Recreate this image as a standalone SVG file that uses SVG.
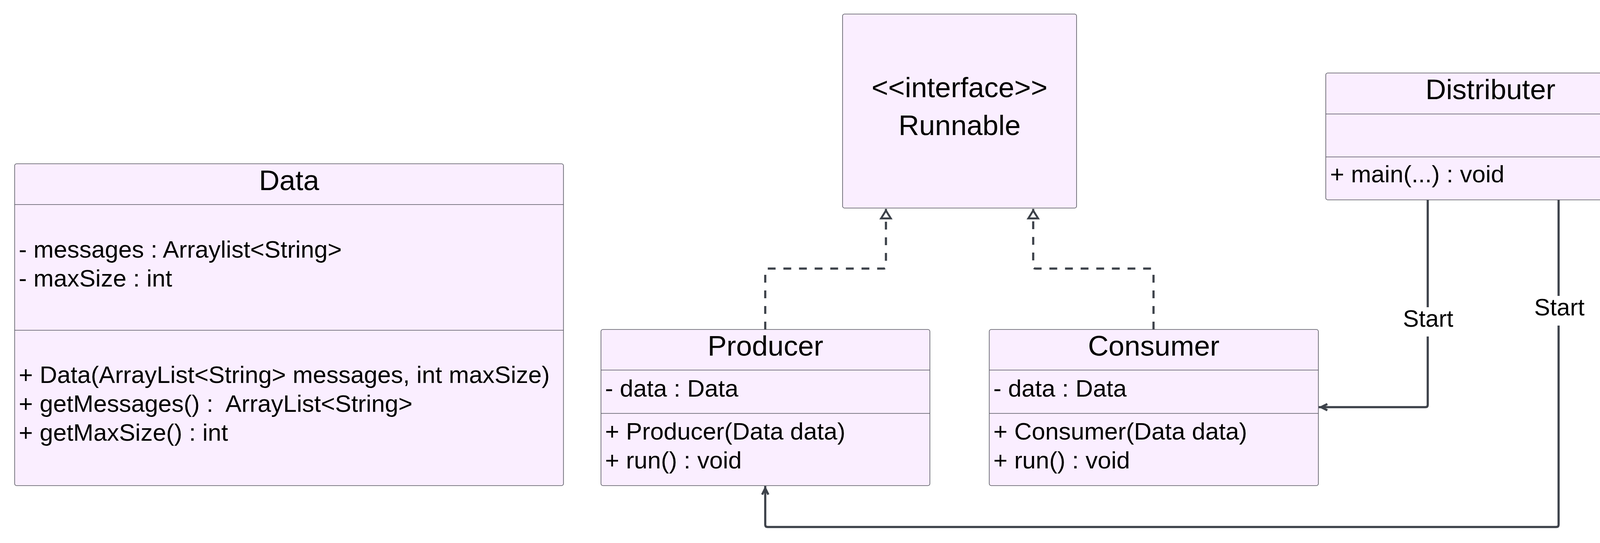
<svg xmlns="http://www.w3.org/2000/svg" width="4275" height="1391" viewBox="0 0 4275 1391">
<style>
.box{fill:#faeeff;stroke:#55555f;stroke-width:1.6}
.div{stroke:#55555f;stroke-width:1.6}
.t{font-family:"Liberation Sans",Arial,Helvetica,sans-serif;fill:#000}
.title{font-size:73px;text-anchor:middle}
.mem{font-size:62px}
.lbl{font-size:61px;text-anchor:middle}
.edge{fill:none;stroke:#3d424a;stroke-width:5.5}
.dash{stroke-dasharray:20 20}
.lblbg{fill:#ffffff}
</style>
<defs>
<marker id="realize" markerUnits="userSpaceOnUse" orient="auto" refX="24.5" refY="0" markerWidth="60" markerHeight="60" overflow="visible">
<path d="M0,-12.5 L20,0 L0,12.5 Z" fill="#ffffff" stroke="#3d424a" stroke-width="5" stroke-dasharray="none"/>
</marker>
<marker id="open" markerUnits="userSpaceOnUse" orient="auto" refX="6" refY="0" markerWidth="60" markerHeight="60" overflow="visible">
<path d="M-16,-8 L0,0 L-16,8" fill="none" stroke="#3d424a" stroke-width="5.5" stroke-dasharray="none"/>
</marker>
</defs>
<rect width="4275" height="1391" fill="#ffffff"/>

<g id="connectors">
<path id="e-producer-runnable" class="edge dash" d="M1959,844 L1959,694 Q1959,688 1965,688 L2262,688 Q2268,688 2268,682 L2268,535" marker-end="url(#realize)"/>
<path id="e-consumer-runnable" class="edge dash" d="M2953,844 L2953,694 Q2953,688 2947,688 L2651,688 Q2645,688 2645,682 L2645,535" marker-end="url(#realize)"/>
<path id="e-distributer-consumer" class="edge" d="M3655,512 L3655,1037 Q3655,1043 3649,1043 L3376,1043" marker-end="url(#open)"/>
<path id="e-distributer-producer" class="edge" d="M3990,512 L3990,1344 Q3990,1350 3984,1350 L1965,1350 Q1959,1350 1959,1344 L1959,1245" marker-end="url(#open)"/>
<g id="label-start-1">
<rect class="lblbg" x="3590" y="787" width="132" height="75"/>
<text class="t lbl" x="3656" y="837">Start</text>
</g>
<g id="label-start-2">
<rect class="lblbg" x="3926" y="758" width="132" height="76"/>
<text class="t lbl" x="3992" y="808">Start</text>
</g>
</g>

<g id="node-data">
<rect class="box" x="37.5" y="419.5" width="1405" height="824.5" rx="5"/>
<line class="div" x1="37.5" y1="524" x2="1442.5" y2="524"/>
<line class="div" x1="37.5" y1="846" x2="1442.5" y2="846"/>
<text class="t title" x="740" y="487">Data</text>
<text class="t mem" x="48" y="660">- messages : Arraylist&lt;String&gt;</text>
<text class="t mem" x="48" y="734">- maxSize : int</text>
<text class="t mem" x="48" y="981">+ Data(ArrayList&lt;String&gt; messages, int maxSize)</text>
<text class="t mem" x="48" y="1055" xml:space="preserve">+ getMessages() :  ArrayList&lt;String&gt;</text>
<text class="t mem" x="48" y="1129">+ getMaxSize() : int</text>
</g>

<g id="node-runnable">
<rect class="box" x="2157" y="36" width="599" height="497" rx="5"/>
<text class="t title" x="2456.5" y="249">&lt;&lt;interface&gt;&gt;</text>
<text class="t title" x="2456.5" y="346">Runnable</text>
</g>

<g id="node-producer">
<rect class="box" x="1538.5" y="844" width="842" height="400" rx="5"/>
<line class="div" x1="1538.5" y1="948" x2="2380.5" y2="948"/>
<line class="div" x1="1538.5" y1="1059" x2="2380.5" y2="1059"/>
<text class="t title" x="1959.5" y="911">Producer</text>
<text class="t mem" x="1549" y="1016">- data : Data</text>
<text class="t mem" x="1549" y="1126">+ Producer(Data data)</text>
<text class="t mem" x="1549" y="1200">+ run() : void</text>
</g>

<g id="node-consumer">
<rect class="box" x="2532.5" y="844" width="842.5" height="400" rx="5"/>
<line class="div" x1="2532.5" y1="948" x2="3375" y2="948"/>
<line class="div" x1="2532.5" y1="1059" x2="3375" y2="1059"/>
<text class="t title" x="2953.5" y="911">Consumer</text>
<text class="t mem" x="2543" y="1016">- data : Data</text>
<text class="t mem" x="2543" y="1126">+ Consumer(Data data)</text>
<text class="t mem" x="2543" y="1200">+ run() : void</text>
</g>

<g id="node-distributer">
<rect class="box" x="3394" y="187" width="843" height="325" rx="5"/>
<line class="div" x1="3394" y1="292" x2="4237" y2="292"/>
<line class="div" x1="3394" y1="402" x2="4237" y2="402"/>
<text class="t title" x="3815.5" y="254">Distributer</text>
<text class="t mem" x="3405" y="467">+ main(...) : void</text>
</g>
</svg>
